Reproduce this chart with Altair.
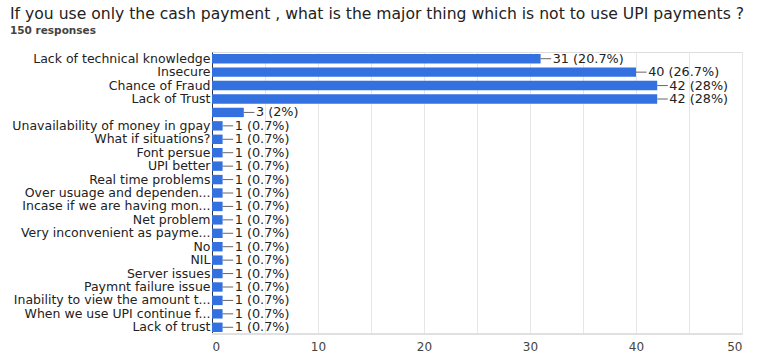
import altair as alt
import pandas as pd

categories = [
    "Lack of technical knowledge", "Insecure", "Chance of Fraud", "Lack of Trust", " ",
    "Unavailability of money in gpay", "What if situations?", "Font persue", "UPI better",
    "Real time problems", "Over usuage and dependen...", "Incase if we are having mon...",
    "Net problem", "Very inconvenient as payme...", "No", "NIL", "Server issues",
    "Paymnt failure issue", "Inability to view the amount t...", "When we use UPI continue f...",
    "Lack of trust",
]
counts = [31, 40, 42, 42, 3] + [1] * 16
labels = ["31 (20.7%)", "40 (26.7%)", "42 (28%)", "42 (28%)", "3 (2%)"] + ["1 (0.7%)"] * 16

df = pd.DataFrame({"cat": categories, "n": counts, "label": labels})
df["lead_end"] = df["n"] + 1.0
df["text_x"] = df["n"] + 1.05

FONT = "DejaVu Sans"
ysc = alt.Scale(domain=categories, paddingInner=0.3, paddingOuter=0.15)
xsc = alt.Scale(domain=[0, 50], nice=False)

y = alt.Y("cat:N", sort=categories, scale=ysc, title=None,
          axis=alt.Axis(labelFontSize=12.5, labelColor="#222", labelFont=FONT,
                        ticks=False, domain=True, domainColor="#333", labelPadding=2,
                        labelLimit=220))

bars = alt.Chart(df).mark_bar(color="#3370e0").encode(
    x=alt.X("n:Q", scale=xsc, title=None,
            axis=alt.Axis(values=list(range(0, 51, 5)), labelExpr="datum.value % 10 == 0 ? datum.label : ''",
                          labelFontSize=12, labelColor="#444", labelFont=FONT,
                          ticks=False, domain=False, gridColor="#e6e6e6", labelPadding=7)),
    y=y,
)

leads = alt.Chart(df).mark_rule(color="#666", strokeWidth=1).encode(
    x="n:Q", x2="lead_end:Q", y=alt.Y("cat:N", sort=categories, scale=ysc, title=None),
)

texts = alt.Chart(df).mark_text(align="left", baseline="middle", fontSize=12.8, color="#222",
                                font=FONT, dx=1).encode(
    x="text_x:Q", y=alt.Y("cat:N", sort=categories, scale=ysc, title=None), text="label:N",
)

bottom = alt.Chart(df).mark_rule(color="#e0e0e0").encode(
    x=alt.value(0), x2=alt.value(530), y=alt.value(282)
)

chart = alt.layer(bars, leads, texts, bottom).properties(
    width=530, height=282,
    title=alt.TitleParams(
        text="If you use only the cash payment , what is the major thing which is not to use UPI payments ?",
        subtitle="150 responses",
        anchor="start", frame="group", dx=-202, offset=16,
        fontSize=15.6, font=FONT, fontWeight="normal", color="#222",
        subtitleFontSize=10.5, subtitleFont=FONT, subtitleColor="#444",
        subtitleFontWeight="bold", subtitlePadding=3,
    ),
    autosize=alt.AutoSizeParams(type="none"),
    padding={"left": 212, "top": 52, "right": 27, "bottom": 22},
).configure_view(stroke=None).configure(background="white")

chart.save("out.html", embed_options={"renderer": "svg", "actions": False})
